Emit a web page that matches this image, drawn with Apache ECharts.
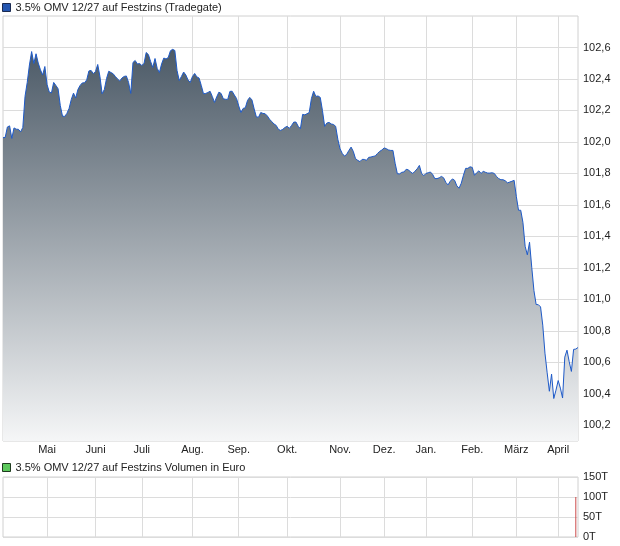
<!DOCTYPE html>
<html>
<head>
<meta charset="utf-8">
<script src="https://cdn.jsdelivr.net/npm/echarts@6/dist/echarts.min.js"></script>
<style>
html,body{margin:0;padding:0;background:#fff;}
#c{width:620px;height:546px;}
</style>
</head>
<body>
<div id="c"></div>
<script>
const priceName = '3.5% OMV 12/27 auf Festzins (Tradegate)';
const volumeName = '3.5% OMV 12/27 auf Festzins Volumen in Euro';

const priceValues = [
102.027,102.029,102.095,102.102,102.022,102.089,102.081,102.080,102.064,102.092,
102.289,102.378,102.489,102.574,102.498,102.560,102.501,102.458,102.425,102.479,
102.365,102.317,102.311,102.378,102.359,102.338,102.232,102.164,102.162,102.181,
102.213,102.270,102.310,102.279,102.333,102.359,102.375,102.376,102.394,102.451,
102.454,102.434,102.448,102.492,102.416,102.306,102.333,102.403,102.449,102.441,
102.433,102.416,102.400,102.387,102.406,102.416,102.419,102.378,102.308,102.505,
102.517,102.495,102.498,102.486,102.498,102.568,102.555,102.511,102.473,102.530,
102.467,102.441,102.496,102.533,102.527,102.536,102.579,102.588,102.581,102.454,
102.390,102.416,102.444,102.425,102.394,102.378,102.416,102.435,102.413,102.406,
102.359,102.306,102.308,102.314,102.322,102.289,102.251,102.286,102.316,102.308,
102.274,102.271,102.270,102.321,102.322,102.298,102.276,102.229,102.187,102.213,
102.217,102.264,102.283,102.267,102.210,102.159,102.157,102.187,102.181,102.179,
102.165,102.144,102.129,102.114,102.105,102.080,102.073,102.080,102.092,102.099,
102.086,102.105,102.126,102.126,102.099,102.084,102.175,102.172,102.179,102.187,
102.276,102.322,102.289,102.292,102.283,102.200,102.099,102.120,102.124,102.114,
102.111,102.099,102.016,101.956,101.927,101.910,101.921,101.946,101.967,101.940,
101.894,101.883,101.875,101.889,101.889,101.883,101.902,101.904,101.908,101.911,
101.927,101.940,101.949,101.962,101.957,101.949,101.946,101.946,101.864,101.798,
101.797,101.807,101.809,101.826,101.823,101.809,101.800,101.814,101.829,101.851,
101.800,101.786,101.800,101.804,101.809,101.794,101.767,101.767,101.772,101.781,
101.772,101.743,101.727,101.750,101.765,101.756,101.721,101.706,101.737,101.788,
101.832,101.832,101.842,101.838,101.788,101.804,101.816,101.800,101.813,101.807,
101.802,101.802,101.804,101.800,101.781,101.767,101.760,101.760,101.753,101.740,
101.745,101.750,101.756,101.654,101.566,101.566,101.489,101.337,101.283,101.363,
101.204,101.055,100.967,100.966,100.952,100.836,100.658,100.533,100.416,100.525,
100.370,100.423,100.484,100.436,100.373,100.633,100.677,100.604,100.542,100.682,
100.684,100.694
];

const categories = priceValues.map((_, i) => i);
const monthLabels = ['Mai','Juni','Juli','Aug.','Sep.','Okt.','Nov.','Dez.','Jan.','Feb.','März','April'];
const monthStartIdx = [20,42,63,86,107,129,153,173,192,213,233,252];
const priceTicks = [100.2,100.4,100.6,100.8,101.0,101.2,101.4,101.6,101.8,102.0,102.2,102.4,102.6];
const volumeTicks = [0,50,100,150];
const volumeIdx = [260];
const volumeValues = [100];

const FONT = 'Liberation Sans, Arial, sans-serif';
const GRID_COLOR = '#dcdcdc';
const isMonthStart = (i) => monthStartIdx.indexOf(i) >= 0;

const chart = echarts.init(document.getElementById('c'), null, {renderer: 'canvas'});
chart.setOption({
  animation: false,
  backgroundColor: '#fff',
  textStyle: {fontFamily: FONT},
  legend: [
    {
      left: 2, top: 2, padding: 0, itemWidth: 8, itemHeight: 8,
      textStyle: {fontSize: 11, color: '#222', fontFamily: FONT},
      selectedMode: false,
      data: [{name: priceName, icon: 'rect', itemStyle: {color: '#2456b0', borderColor: '#1b2a50', borderWidth: 1}}]
    },
    {
      left: 2, top: 462, padding: 0, itemWidth: 8, itemHeight: 8,
      textStyle: {fontSize: 11, color: '#222', fontFamily: FONT},
      selectedMode: false,
      data: [{name: volumeName, icon: 'rect', itemStyle: {color: '#5cc85c', borderColor: '#1f3a1f', borderWidth: 1}}]
    }
  ],
  grid: [
    {left: 3, top: 16, width: 575, height: 425, show: true, borderColor: '#d0d0d0', borderWidth: 1, containLabel: false},
    {left: 3, top: 477, width: 575, height: 60, show: true, borderColor: '#d0d0d0', borderWidth: 1, containLabel: false}
  ],
  xAxis: [
    {
      type: 'category', gridIndex: 0, data: categories, boundaryGap: false,
      axisLine: {show: false}, axisTick: {show: false},
      axisLabel: {
        interval: (i) => isMonthStart(i),
        formatter: (v, i) => monthLabels[monthStartIdx.indexOf(Number(v))] || '',
        fontSize: 11, color: '#222', margin: 3, fontFamily: FONT
      },
      splitLine: {show: true, interval: (i) => isMonthStart(i), lineStyle: {color: GRID_COLOR, width: 1}}
    },
    {
      type: 'category', gridIndex: 1, data: categories, boundaryGap: false,
      axisLine: {show: false}, axisTick: {show: false}, axisLabel: {show: false},
      splitLine: {show: true, interval: (i) => isMonthStart(i), lineStyle: {color: GRID_COLOR, width: 1}}
    }
  ],
  yAxis: [
    {
      type: 'value', gridIndex: 0, position: 'right', min: 100.1, max: 102.8, scale: true,
      axisLine: {show: false},
      axisTick: {show: false, customValues: priceTicks},
      axisLabel: {
        customValues: priceTicks,
        formatter: (v) => Number(v).toFixed(1).replace('.', ','),
        fontSize: 11, color: '#222', margin: 5, fontFamily: FONT
      },
      splitLine: {show: true, lineStyle: {color: GRID_COLOR, width: 1}}
    },
    {
      type: 'value', gridIndex: 1, position: 'right', min: 0, max: 150, interval: 50,
      axisLine: {show: false}, axisTick: {show: false},
      axisLabel: {formatter: (v) => v + 'T', fontSize: 11, color: '#222', margin: 5, fontFamily: FONT},
      splitLine: {show: true, lineStyle: {color: GRID_COLOR, width: 1}}
    }
  ],
  series: [
    {
      name: priceName, type: 'line', xAxisIndex: 0, yAxisIndex: 0,
      data: priceValues, symbol: 'none', smooth: false,
      lineStyle: {color: '#1e5ac8', width: 1},
      itemStyle: {color: '#2456b0'},
      areaStyle: {
        origin: 'start',
        color: new echarts.graphic.LinearGradient(0, 0, 0, 1, [
          {offset: 0, color: '#4c5a67'},
          {offset: 1, color: '#f5f6f7'}
        ]),
        opacity: 1
      }
    },
    {
      name: volumeName, type: 'bar', xAxisIndex: 1, yAxisIndex: 1,
      data: volumeIdx.map((idx, k) => [idx, volumeValues[k]]),
      barWidth: 1,
      itemStyle: {color: '#cc4b4b'}
    }
  ]
});
</script>
</body>
</html>
